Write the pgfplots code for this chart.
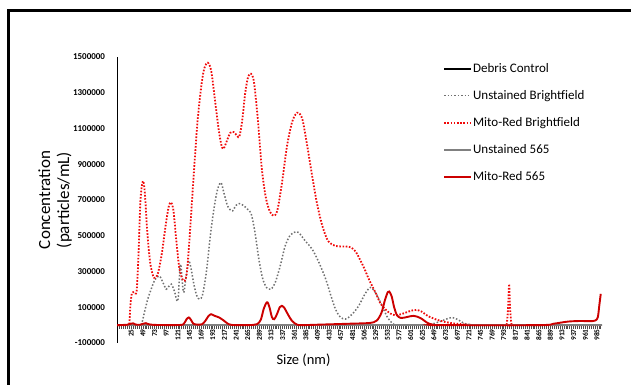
\documentclass[border=0pt]{standalone}
\usepackage{fontspec}
\setmainfont{Carlito}
\usepackage{pgfplots}
\pgfplotsset{compat=1.18}
\definecolor{mrsolid}{RGB}{204,0,0}
\definecolor{mrdot}{RGB}{240,10,10}
\definecolor{ugrey}{RGB}{128,128,128}
\definecolor{udot}{RGB}{112,112,112}
\begin{document}
\begin{tikzpicture}[x=1pt,y=1pt]
\useasboundingbox (0,0) rectangle (631,385);
\draw[line width=3.5pt] (8.3,-2) -- (8.3,374.3) -- (634,374.3);
\node[rotate=90, align=center, font=\fontsize{17}{19}\selectfont] at (55,185) {Concentration\\(particles/mL)};
\node[font=\fontsize{14.5}{16}\selectfont] at (303.5,25) {Size (nm)};
\begin{axis}[
  at={(117.2pt,42pt)}, anchor=south west, scale only axis,
  width=485pt, height=286pt,
  xmin=0, xmax=1000, ymin=-100000, ymax=1500000,
  axis x line=middle, axis y line=left,
  x axis line style={-, draw=black!75, line width=1pt},
  y axis line style={-, draw=black, line width=1.3pt},
  xtick={25,49,...,985},
  xticklabels={25,49,73,97,121,145,169,193,217,241,265,289,313,337,361,385,409,433,457,481,506,529,553,577,601,625,649,673,697,721,745,769,793,817,841,865,889,913,937,961,985},
  minor xtick={1,5,...,997},
  tick align=outside,
  major tick length=4pt, minor tick length=3.5pt,
  xtick style={draw=black!70, line width=0.6pt},
  minor tick style={draw=black!70, line width=0.6pt},
  xticklabel style={rotate=90, anchor=east, inner sep=0pt, yshift=-2pt, font=\bfseries\fontsize{7.4}{8}\selectfont},
  ytick={-100000,100000,...,1500000},
  ytick style={draw=none},
  scaled y ticks=false,
  yticklabel style={anchor=east, inner sep=0pt, xshift=-8pt, font=\bfseries\fontsize{9}{10}\selectfont},
  /pgf/number format/.cd, fixed, 1000 sep={}, assume math mode=true,
  /pgfplots/.cd,
  legend cell align=left,
  legend style={at={(0.6718,0.981)}, anchor=north west, draw=none, fill=none,
    inner sep=0pt, row sep=15pt,
    font=\fontsize{13}{13}\selectfont,
    nodes={inner xsep=1pt, inner ysep=0pt, text height=9.5pt, text depth=2.5pt}},
  legend image code/.code={\draw[#1] (0pt,0pt) -- (27pt,0pt);},
]
% Debris Control
\addplot[black, line width=1.8pt] coordinates {(0,0) (1000,0)};
\addlegendentry{Debris Control}
% Unstained Brightfield
\addplot[udot, line width=1.5pt, dash pattern=on 1.5pt off 1.9pt, smooth, tension=0.5] coordinates {
(0,0) (45,0) (51,15000) (56,70000) (63,145000) (70,201000) (78,255000) (87,275000) (94,240000) (101,201000) (106,215000) (111.6,229000) (118,190000) (125,136000) (130.5,341000) (136.5,183000) (141,250000) (147,360000) (152,320000) (158,230000) (164,165000) (170,145000) (176,170000) (184,300000) (192,500000) (200,660000) (207,760000) (214,797000) (220,740000) (227,670000) (233,645000) (238,639000) (245,670000) (252,680000) (260,670000) (268,650000) (276,625000) (284,520000) (292,370000) (300,260000) (308,210000) (317,201000) (326,240000) (336,330000) (346,440000) (356,500000) (366,520000) (374,518000) (388,470000) (402,425000) (416,350000) (430,257000) (440,170000) (450,89000) (460,45000) (471,34000) (484,60000) (498,108000) (510,170000) (522,211000) (534,175000) (546,108000) (558,40000) (570,5000) (580,0) (640,3000) (660,15000) (675,30000) (690,43000) (703,30000) (715,10000) (730,2000) (750,0) (1000,0)};
\addlegendentry{Unstained Brightfield}
% Mito-Red Brightfield
\addplot[mrdot, line width=1.8pt, dash pattern=on 1.6pt off 1.6pt, smooth, tension=0.5] coordinates {
(0,0) (22,0) (25,10000) (27,100000) (30,175000) (35,185000) (40,190000) (44,400000) (48,700000) (53,806000) (57,740000) (62,520000) (68,350000) (74,275000) (78,265000) (84,290000) (92,400000) (100,560000) (106,660000) (111,687000) (116,640000) (122,470000) (128,320000) (134,260000) (139,248000) (144,300000) (150,520000) (158,850000) (166,1150000) (174,1350000) (180,1440000) (187,1468000) (194,1420000) (202,1250000) (210,1080000) (216,995000) (220,990000) (226,1030000) (233,1075000) (240,1080000) (247,1060000) (252,1055000) (258,1150000) (264,1300000) (270,1390000) (276,1406000) (282,1360000) (290,1150000) (298,880000) (306,720000) (314,640000) (322,612000) (330,640000) (340,800000) (350,1000000) (360,1130000) (368,1180000) (374,1188000) (382,1150000) (392,1000000) (402,834000) (412,680000) (423,555000) (435,470000) (450,443000) (470,440000) (482,435000) (492,410000) (500,370000) (509,320000) (520,250000) (533,180000) (543,120000) (553,89000) (563,65000) (574,55000) (590,65000) (605,80000) (617,85000) (628,75000) (640,52000) (656,33000) (672,20000) (690,11000) (710,5000) (740,0) (798,0) (803,5000) (806,100000) (808,230000) (810,100000) (813,5000) (818,0) (1000,0)};
\addlegendentry{Mito-Red Brightfield}
% Unstained 565
\addplot[ugrey, line width=1.8pt] coordinates {(0,0) (1000,0)};
\addlegendentry{Unstained 565}
% Mito-Red 565
\addplot[mrsolid, line width=1.9pt, smooth, tension=0.5] coordinates {
(0,0) (20,2000) (28,8000) (33,10000) (38,3000) (47,2000) (54,8000) (59,11000) (65,5000) (80,1000) (130,1000) (138,10000) (143,33000) (147.6,43000) (152,30000) (157,8000) (165,3000) (175,5000) (182,25000) (188,50000) (193.6,61000) (200,53000) (210,43000) (220,25000) (228,8000) (237,1000) (270,0) (288,5000) (296,30000) (302,90000) (307,122000) (310,127000) (314,100000) (319,45000) (323.7,33000) (330,65000) (335,100000) (339.5,108000) (345,95000) (352,60000) (360,25000) (368,7000) (378,0) (420,3000) (480,8000) (520,12000) (535,25000) (545,70000) (552,140000) (558,185000) (561,188000) (566,160000) (571,100000) (577,55000) (585,40000) (597,45000) (611,52000) (625,40000) (640,12000) (650,3000) (660,0) (870,0) (900,8000) (930,20000) (955,23000) (975,22000) (986,26000) (991,45000) (994,110000) (997,175000)};
\addlegendentry{Mito-Red 565}
\end{axis}
\end{tikzpicture}
\end{document}
